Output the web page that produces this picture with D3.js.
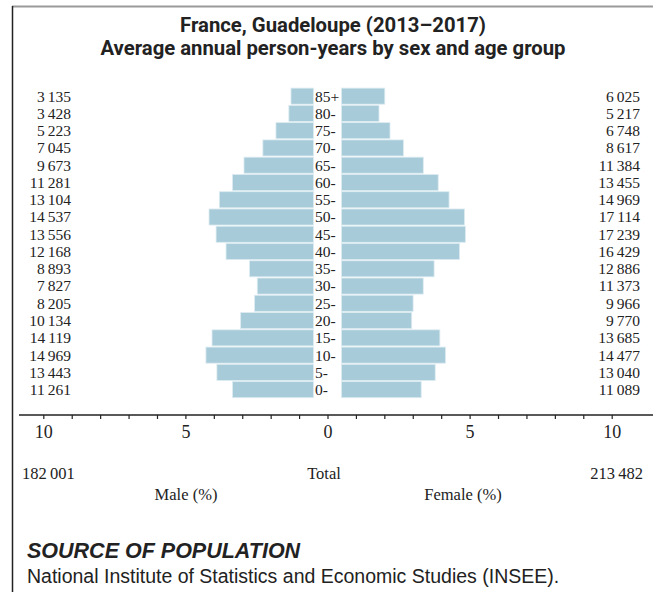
<!DOCTYPE html>
<html><head><meta charset="utf-8">
<script src="https://cdn.jsdelivr.net/npm/d3@7"></script>
<style>
html,body{margin:0;padding:0;background:#fff;}
svg{display:block;}
</style></head>
<body>
<svg id="chart" width="653" height="592"></svg>
<script>
const ageGroups = ["0-","5-","10-","15-","20-","25-","30-","35-","40-","45-","50-","55-","60-","65-","70-","75-","80-","85+"];
const maleValues = [11261,13443,14969,14119,10134,8205,7827,8893,12168,13556,14537,13104,11281,9673,7045,5223,3428,3135];
const femaleValues = [11089,13040,14477,13685,9770,9966,11373,12886,16429,17239,17114,14969,13455,11384,8617,6748,5217,6025];
const maleTotal = 182001;
const femaleTotal = 213482;
const tickValues = d3.range(-10, 11, 1);
const titleLines = ["France, Guadeloupe (2013\u20132017)", "Average annual person-years by sex and age group"];

const svg = d3.select("#chart");
const ink = "#222";
const barFill = "#a7cbd8";
const loc = d3.formatLocale({decimal: ".", thousands: "\u2009", grouping: [3], currency: ["", ""]});
const fmt = loc.format(",d");
const grand = maleTotal + femaleTotal;
const pct = v => v / grand * 100;

// frame
svg.append("line").attr("x1", 12).attr("x2", 653).attr("y1", 6.5).attr("y2", 6.5).attr("stroke", "#9a9a9a").attr("stroke-width", 2);
svg.append("line").attr("x1", 12.5).attr("x2", 12.5).attr("y1", 6).attr("y2", 592).attr("stroke", ink).attr("stroke-width", 1.5);

// title
svg.selectAll("text.title").data(titleLines).join("text")
  .attr("class", "title")
  .attr("x", 333).attr("y", (d, i) => 32 + i * 23)
  .attr("text-anchor", "middle")
  .attr("font-family", "Roboto, 'Liberation Sans', sans-serif")
  .attr("font-weight", 700).attr("font-size", 20.3).attr("fill", ink)
  .text(d => d);

// scales
const center = 327.5;
const unit = 28.42;
const axisX = d3.scaleLinear().domain([-10, 10]).range([center - 10 * unit, center + 10 * unit]);
const w = d3.scaleLinear().domain([0, 10]).range([0, 10 * unit]);
const y = d3.scaleBand().domain(ageGroups.slice().reverse()).range([87.6, 398.2]).paddingInner(0.07).paddingOuter(0.03);
const maleEdge = 313.5, femaleEdge = 341.5;

const rows = ageGroups.map((a, i) => ({age: a, m: maleValues[i], f: femaleValues[i]}));

svg.append("g").selectAll("rect").data(rows).join("rect")
  .attr("x", d => maleEdge - w(pct(d.m))).attr("y", d => y(d.age))
  .attr("width", d => w(pct(d.m))).attr("height", y.bandwidth())
  .attr("fill", barFill).attr("stroke", "#dcebf1").attr("stroke-width", 0.8);

svg.append("g").selectAll("rect").data(rows).join("rect")
  .attr("x", femaleEdge).attr("y", d => y(d.age))
  .attr("width", d => w(pct(d.f))).attr("height", y.bandwidth())
  .attr("fill", barFill).attr("stroke", "#dcebf1").attr("stroke-width", 0.8);

const serif = "'Liberation Serif', 'Times New Roman', serif";
// age labels
svg.append("g").selectAll("text").data(rows).join("text")
  .attr("x", 315).attr("y", d => y(d.age) + y.bandwidth() / 2)
  .attr("dy", "0.35em")
  .attr("font-family", serif).attr("font-size", 15.5).attr("fill", ink)
  .text(d => d.age);

// value labels
svg.append("g").selectAll("text").data(rows).join("text")
  .attr("x", 71).attr("y", d => y(d.age) + y.bandwidth() / 2).attr("dy", "0.35em")
  .attr("text-anchor", "end")
  .attr("font-family", serif).attr("font-size", 15.5).attr("fill", ink)
  .text(d => fmt(d.m));
svg.append("g").selectAll("text").data(rows).join("text")
  .attr("x", 640).attr("y", d => y(d.age) + y.bandwidth() / 2).attr("dy", "0.35em")
  .attr("text-anchor", "end")
  .attr("font-family", serif).attr("font-size", 15.5).attr("fill", ink)
  .text(d => fmt(d.f));

// axis
const axis = d3.axisBottom(axisX).tickValues(tickValues).tickSize(4).tickPadding(6)
  .tickFormat(d => (d % 5 === 0 ? String(Math.abs(d)) : ""));
const gx = svg.append("g").attr("transform", "translate(0,415)").call(axis);
gx.select(".domain").remove();
gx.selectAll(".tick line").attr("stroke", ink).attr("stroke-width", 1.2);
gx.selectAll(".tick text").attr("font-family", serif).attr("font-size", 18).attr("fill", ink);
svg.append("line").attr("x1", 19).attr("x2", 653).attr("y1", 415).attr("y2", 415).attr("stroke", ink).attr("stroke-width", 1.5);

// totals
const bottom = [
  {t: fmt(maleTotal), x: 22, y: 479, a: "start"},
  {t: "Total", x: 324, y: 479, a: "middle"},
  {t: fmt(femaleTotal), x: 643, y: 479, a: "end"},
  {t: "Male (%)", x: 186, y: 500, a: "middle"},
  {t: "Female (%)", x: 463, y: 500, a: "middle"}
];
svg.append("g").selectAll("text").data(bottom).join("text")
  .attr("x", d => d.x).attr("y", d => d.y).attr("text-anchor", d => d.a)
  .attr("font-family", serif).attr("font-size", 16.5).attr("fill", ink)
  .text(d => d.t);

// source
svg.append("text").attr("x", 27).attr("y", 558)
  .attr("font-family", "'Liberation Sans', Arial, sans-serif").attr("font-weight", 700).attr("font-style", "italic")
  .attr("font-size", 21.5).attr("fill", ink).text("SOURCE OF POPULATION");
svg.append("text").attr("x", 27).attr("y", 583)
  .attr("font-family", "'Liberation Sans', Arial, sans-serif")
  .attr("font-size", 19.5).attr("fill", ink).text("National Institute of Statistics and Economic Studies (INSEE).");
</script>
</body></html>
